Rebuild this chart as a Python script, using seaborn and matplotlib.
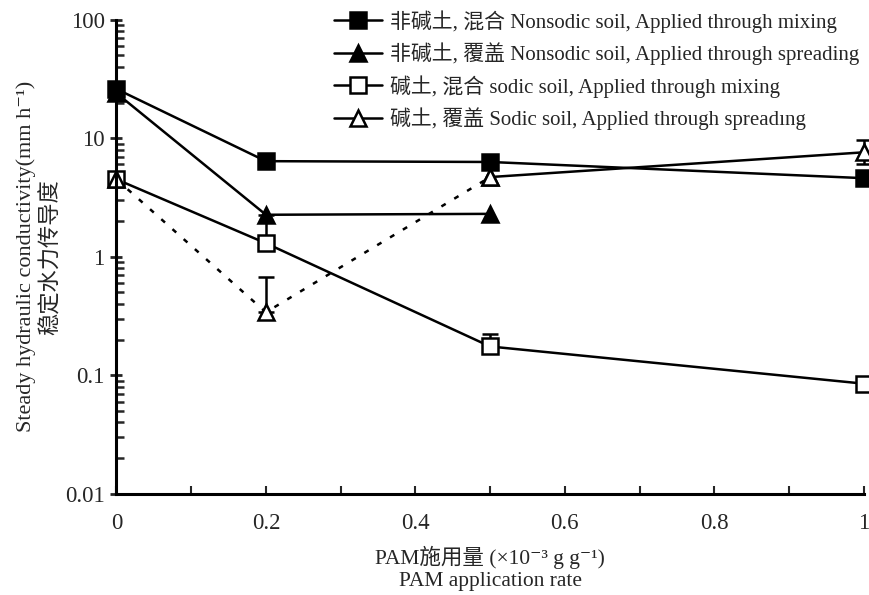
import matplotlib
matplotlib.use("Agg")
import matplotlib.pyplot as plt
import matplotlib.ticker as mticker
import seaborn as sns

sns.set_style("ticks")
plt.rcParams["font.family"] = ["Liberation Serif", "Noto Sans CJK SC", "DejaVu Serif"]

# PAM application rate (x10^-3 g g^-1)
rate = [0.0, 0.2, 0.5, 1.0]

# Steady hydraulic conductivity (mm h^-1)
nonsodic_mix = [26.0, 6.4, 6.3, 4.6]
nonsodic_spread = [24.0, 2.26, 2.3]
sodic_mix = [4.5, 1.3, 0.175, 0.085]
sodic_spread = [4.5, 0.34, 4.7, 7.6]

# Error bars (upper / lower)
err_x = [0.2, 0.5, 1.0, 0.2, 1.0]
err_y = [0.34, 0.175, 0.085, 2.26, 7.6]
err_up = [0.34, 0.05, 0.005, 0.0, 2.0]
err_lo = [0.0, 0.0, 0.005, 0.9, 1.5]

labels = [
    "非碱土, 混合 Nonsodic soil, Applied through mixing",
    "非碱土, 覆盖 Nonsodic soil, Applied through spreading",
    "碱土, 混合 sodic soil, Applied through mixing",
    "碱土, 覆盖 Sodic soil, Applied through spreadıng",
]

fig = plt.figure(figsize=(8.69, 5.95), dpi=100)
ax = fig.add_axes([0.134, 0.170, 0.860, 0.797])

common = dict(color="black", linewidth=1.8, markersize=11, clip_on=False,
              markeredgewidth=1.8, markeredgecolor="black", ax=ax)

sns.lineplot(x=rate, y=nonsodic_mix, marker="s", label=labels[0], **common)
sns.lineplot(x=rate[:3], y=nonsodic_spread, marker="^", label=labels[1], **common)
sns.lineplot(x=rate, y=sodic_mix, marker="s", markerfacecolor="white",
             label=labels[2], **common)
# sodic soil, spreading: dashed at low rates, solid between 0.5 and 1
sns.lineplot(x=rate[2:], y=sodic_spread[2:], marker="^", markerfacecolor="white",
             label=labels[3], **common)
sns.lineplot(x=rate[:3], y=sodic_spread[:3], marker="^", markerfacecolor="white",
             linestyle=(0, (2, 4)), legend=False, **common)

ax.errorbar(err_x, err_y, yerr=[err_lo, err_up], fmt="none", ecolor="black",
            elinewidth=1.8, capsize=6, capthick=1.8, clip_on=False, zorder=1)

ax.set_yscale("log")
ax.set_ylim(0.01, 100)
ax.set_xlim(0, 1)
ax.yaxis.set_major_locator(mticker.FixedLocator([0.01, 0.1, 1, 10, 100]))
ax.yaxis.set_major_formatter(mticker.FixedFormatter(["0.01", "0.1", "1", "10", "100"]))
ax.yaxis.set_minor_locator(mticker.LogLocator(base=10, subs=range(2, 10)))
ax.yaxis.set_minor_formatter(mticker.NullFormatter())
ax.xaxis.set_major_locator(mticker.FixedLocator([0, 0.2, 0.4, 0.6, 0.8, 1.0]))
ax.xaxis.set_major_formatter(mticker.FixedFormatter(["0", "0.2", "0.4", "0.6", "0.8", "1"]))
ax.xaxis.set_minor_locator(mticker.MultipleLocator(0.1))

sns.despine(ax=ax)
for s in ("left", "bottom"):
    ax.spines[s].set_linewidth(2.2)
    ax.spines[s].set_color("black")

ax.tick_params(axis="y", which="major", direction="inout", length=9, width=2,
               labelsize=16.5, pad=4)
ax.tick_params(axis="y", which="minor", direction="in", length=6, width=1.8)
ax.tick_params(axis="x", which="both", direction="in", length=6, width=1.5,
               labelsize=16.5, pad=14)

ax.set_ylabel("Steady hydraulic conductivity(mm h⁻¹)\n稳定水力传导度",
              fontsize=16, labelpad=2, linespacing=1.3)
ax.set_xlabel("PAM施用量 (×10⁻³ g g⁻¹)\nPAM application rate",
              fontsize=15.5, labelpad=8, linespacing=1.25)

leg = ax.legend(loc="upper right", bbox_to_anchor=(1.005, 1.038), frameon=False,
                fontsize=15, handlelength=2.3, handletextpad=0.4,
                labelspacing=0.47, borderaxespad=0)
for h in leg.legend_handles:
    h.set_linestyle("-")

fig.savefig("out.png", dpi=100)
